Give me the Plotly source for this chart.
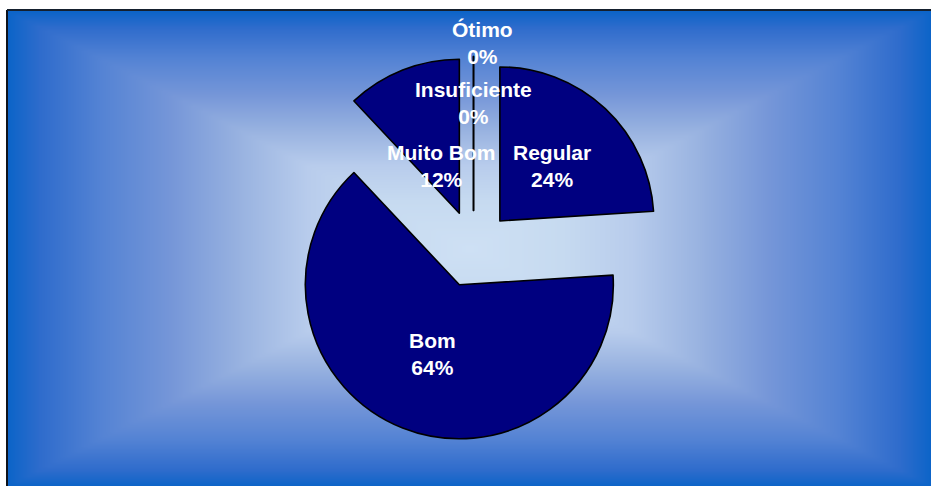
import numpy as np
import plotly.graph_objects as go

# ---- data ---------------------------------------------------------------
categorias = ["Regular", "Bom", "Muito Bom", "Insuficiente", "Ótimo"]
valores = [24, 64, 12, 0, 0]

# ---- layout constants ---------------------------------------------------
W, H = 931, 486
M_L, M_T = 8, 11
PW, PH = W - M_L, H - M_T            # plot area in pixels
DOM_X = [0.2958, 0.7129]
DOM_Y = [0.0937, 0.9042]
PULL = 0.25
SLICE_COLOR = "#000080"

# label placement: fraction of radius along each slice's mid-angle
LABEL_K = [0.49, 0.48, 0.33, 0.70, 1.09]
LABEL_XSHIFT = [0, 0, 0, 0, 9]

# background "from centre" gradient: t=0 centre, t=1 edge
GRAD_STOPS = [
    (0.00, "rgb(206,224,244)"),
    (0.20, "rgb(198,218,240)"),
    (0.35, "rgb(184,204,236)"),
    (0.50, "rgb(152,178,224)"),
    (0.65, "rgb(117,150,216)"),
    (0.80, "rgb(84,131,212)"),
    (0.93, "rgb(47,108,204)"),
    (1.00, "rgb(12,100,200)"),
]

fig = go.Figure()

# gradient backdrop on a hidden cartesian subplot
gx = np.linspace(0, PW, 186)
gy = np.linspace(0, PH, 96)
GX, GY = np.meshgrid(gx, gy)
gz = np.maximum(np.abs(GX - PW / 2) / (PW / 2), np.abs(GY - PH / 2) / (PH / 2))
fig.add_trace(go.Heatmap(
    x=gx, y=gy, z=gz, zmin=0, zmax=1,
    colorscale=[[s, c] for s, c in GRAD_STOPS],
    zsmooth="best", showscale=False, hoverinfo="skip",
))

# the exploded pie
fig.add_trace(go.Pie(
    labels=categorias, values=valores,
    sort=False, direction="clockwise", rotation=0,
    pull=[PULL] * len(valores),
    marker=dict(colors=[SLICE_COLOR] * len(valores),
                line=dict(color="black", width=1.6)),
    textinfo="none", hoverinfo="label+percent",
    domain=dict(x=DOM_X, y=DOM_Y), showlegend=False,
))

# pie geometry (same rule plotly uses to size a pie in its domain)
box_w = PW * (DOM_X[1] - DOM_X[0])
box_h = PH * (DOM_Y[1] - DOM_Y[0])
r = min(box_w, box_h) / 2 / (1 + PULL)
cx = M_L + PW * (DOM_X[0] + DOM_X[1]) / 2
cy = M_T + PH * (1 - DOM_Y[0]) - box_h / 2

total = sum(valores)
annotations = []
acc = 0.0
for cat, v, k, xs in zip(categorias, valores, LABEL_K, LABEL_XSHIFT):
    a0 = acc / total * 2 * np.pi
    acc += v
    a1 = acc / total * 2 * np.pi
    mid = (a0 + a1) / 2
    dx, dy = np.sin(mid), -np.cos(mid)
    px = cx + (PULL + k) * r * dx
    py = cy + (PULL + k) * r * dy
    annotations.append(dict(
        x=(px - M_L) / PW, y=(H - py) / PH, xref="paper", yref="paper",
        text=f"{cat}<br>{v / total * 100:.0f}%", showarrow=False,
        xanchor="center", yanchor="middle", xshift=xs, align="center",
        font=dict(family="Arial, 'Liberation Sans', sans-serif", size=21,
                  color="white", weight="bold"),
    ))

# frame lines on the top and left edges
shapes = [
    dict(type="line", xref="paper", yref="paper",
         x0=-1.0 / PW, x1=-1.0 / PW, y0=-0.05, y1=1 + 1.0 / PH,
         line=dict(color="#0d131c", width=2)),
    dict(type="line", xref="paper", yref="paper",
         x0=-1.0 / PW, x1=1.05, y0=1 + 1.0 / PH, y1=1 + 1.0 / PH,
         line=dict(color="#15202e", width=2)),
]

fig.update_layout(
    width=W, height=H,
    margin=dict(l=M_L, r=0, t=M_T, b=0),
    paper_bgcolor="white", plot_bgcolor="white",
    xaxis=dict(range=[0, PW], visible=False, fixedrange=True),
    yaxis=dict(range=[0, PH], visible=False, fixedrange=True),
    annotations=annotations, shapes=shapes,
)

fig.write_html("out.html")
